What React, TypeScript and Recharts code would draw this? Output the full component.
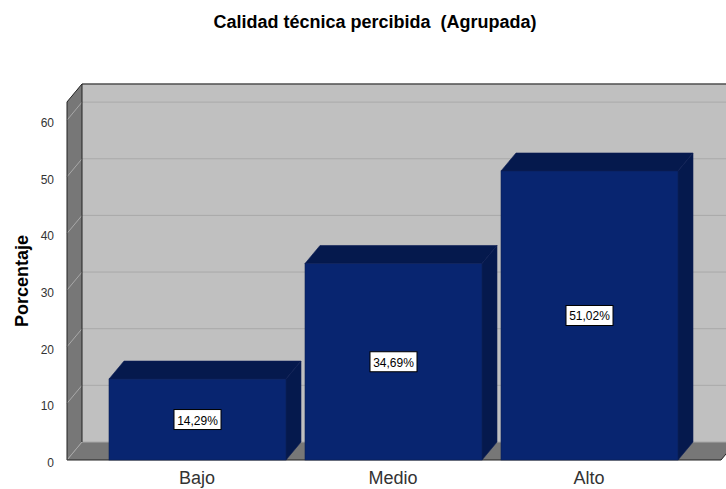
import { Bar, BarChart, CartesianGrid, LabelList, XAxis, YAxis, usePlotArea } from "recharts"

const categories = ["Bajo", "Medio", "Alto"]
const percentages = [14.29, 34.69, 51.02]
const percentLabels = ["14,29%", "34,69%", "51,02%"]
const yTicks = [0, 10, 20, 30, 40, 50, 60]

const data = categories.map((name, i) => ({
  name,
  value: percentages[i],
  label: percentLabels[i],
}))

const FONT = "'Liberation Sans', Arial, sans-serif"
const DX = 15
const DY = 18

function Walls() {
  const plot = usePlotArea()
  if (!plot) return null
  const { x, y, width, height } = plot
  const r = x + width
  const b = y + height
  return (
    <g>
      {/* back wall */}
      <rect x={x + DX} y={y - DY} width={width} height={height} fill="#c0c0c0" />
      {/* side wall */}
      <polygon points={`${x},${y} ${x + DX},${y - DY} ${x + DX},${b - DY} ${x},${b}`} fill="#777777" />
      {/* floor */}
      <polygon points={`${x},${b} ${x + DX},${b - DY} ${r + DX},${b - DY} ${r},${b}`} fill="#777777" />
    </g>
  )
}

function Frame() {
  const plot = usePlotArea()
  if (!plot) return null
  const { x, y, width, height } = plot
  const r = x + width
  const b = y + height
  return (
    <g fill="none" stroke="#222222" strokeWidth={1}>
      <polyline points={`${x},${b} ${x},${y} ${x + DX},${y - DY} ${r + DX},${y - DY}`} />
      <line x1={x + DX} y1={y - DY} x2={x + DX} y2={b - DY} />
      <polyline points={`${x},${b} ${r},${b} ${r + DX},${b - DY}`} />
    </g>
  )
}

function Titles() {
  return (
    <g fontFamily={FONT} fontWeight="bold" fontSize={18} fill="#000000">
      <text x={375} y={28} textAnchor="middle" xmlSpace="preserve">
        Calidad técnica percibida  (Agrupada)
      </text>
      <text x={28} y={281} textAnchor="middle" transform="rotate(-90 28 281)">
        Porcentaje
      </text>
    </g>
  )
}

function GridLine(props: any) {
  const { x1, x2, y1 } = props
  return (
    <polyline
      points={`${x1},${y1} ${x1 + DX},${y1 - DY} ${x2 + DX},${y1 - DY}`}
      fill="none"
      stroke="#a9a9a9"
      strokeWidth={1}
    />
  )
}

function YTick(props: any) {
  const { x, y, payload } = props
  return (
    <text x={x} y={y + 7} textAnchor="end" fontFamily={FONT} fontSize={12} fill="#333333">
      {payload.value}
    </text>
  )
}

function Box3D(props: any) {
  const { x, y, width, height } = props
  const r = x + width
  const b = y + height
  return (
    <g stroke="#0d1f55" strokeWidth={0.6}>
      <polygon points={`${x},${y} ${x + DX},${y - DY} ${r + DX},${y - DY} ${r},${y}`} fill="#05194d" />
      <polygon points={`${r},${y} ${r + DX},${y - DY} ${r + DX},${b - DY} ${r},${b}`} fill="#05194d" />
      <rect x={x} y={y} width={width} height={height} fill="#082570" />
    </g>
  )
}

function ValueBox(props: any) {
  const { x, y, width, height, value } = props
  const cx = x + width / 2
  const cy = y + height / 2
  return (
    <g>
      <rect x={cx - 23.5} y={cy - 10} width={47} height={20} fill="#ffffff" stroke="#000000" strokeWidth={1} />
      <text x={cx} y={cy + 5} textAnchor="middle" fontFamily={FONT} fontSize={12} fill="#000000">
        {value}
      </text>
    </g>
  )
}

export default function App() {
  return (
    <div style={{ position: "absolute", left: 0, top: 0 }}>
      <BarChart
        width={726}
        height={489}
        data={data}
        margin={{ top: 102, right: 5, bottom: 0, left: 0 }}
        barSize={177}
      >
        <Walls />
        <CartesianGrid
          {...({ zIndex: 0 } as any)}
          vertical={false}
          horizontal={(p: any) => <GridLine key={p.key} {...p} />}
        />
        <XAxis
          dataKey="name"
          height={29}
          axisLine={false}
          tickLine={false}
          padding={{ left: 32, right: 34 }}
          tick={{ fontFamily: FONT, fontSize: 18, fill: "#333333" }}
          tickMargin={5}
        />
        <YAxis
          width={67}
          domain={[0, 63.2]}
          ticks={yTicks}
          axisLine={false}
          tickLine={false}
          tickMargin={7}
          tick={<YTick />}
        />
        <Frame />
        <Bar dataKey="value" isAnimationActive={false} shape={<Box3D />}>
          <LabelList dataKey="label" content={<ValueBox />} />
        </Bar>
        <Titles />
      </BarChart>
    </div>
  )
}
